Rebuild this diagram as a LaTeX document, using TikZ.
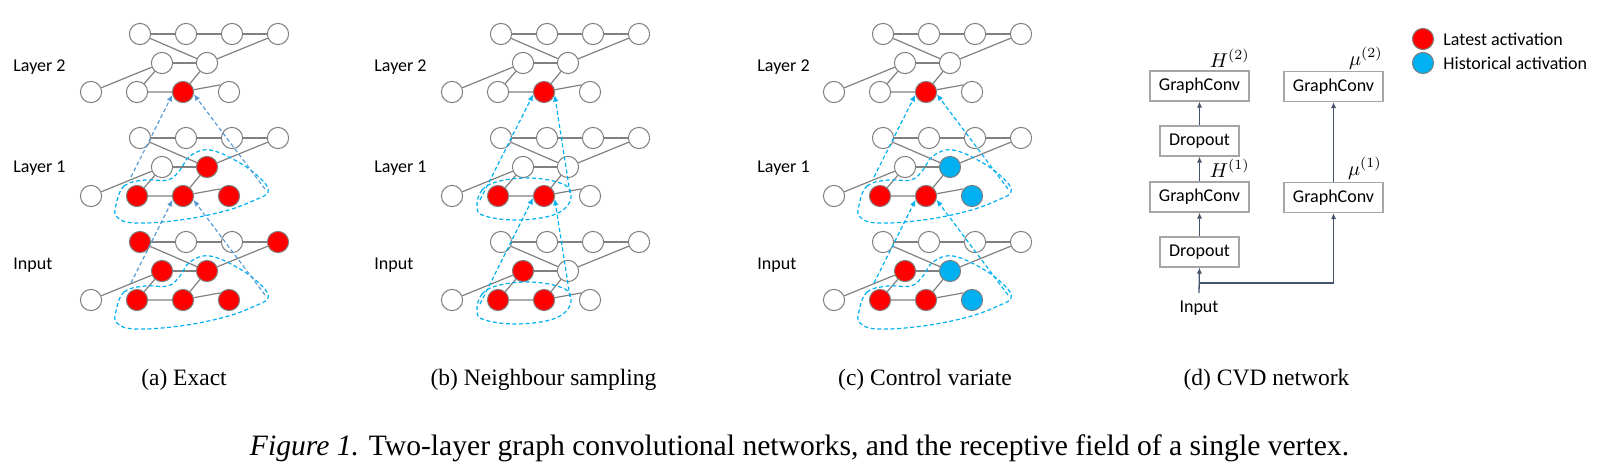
\documentclass[tikz,border=0pt]{standalone}
\usepackage{fontspec}
\setmainfont{Liberation Serif}
\newfontfamily\calfont{Carlito}
\usetikzlibrary{arrows.meta}
\definecolor{hb}{HTML}{00B0F0}
\definecolor{sb}{HTML}{5B9BD5}
\definecolor{ngray}{HTML}{808080}
\definecolor{arr}{HTML}{44546A}
\definecolor{boxg}{HTML}{A6A6A6}
% graph layer: #1 prefix, #2 dx, #3 y0, #4 fill colours (T1..T4,M1,M2,B1..B4)
\newcommand\glayer[4]{%
  \foreach \nm/\px/\py [count=\i from 0] in {T1/140/0,T2/186/0,T3/232/0,T4/278/0,M1/162/29,M2/207/29,B1/91/58,B2/137/58,B3/183/58,B4/229/58}{%
    \pgfmathparse{{#4}[\i]}\let\gcol\pgfmathresult
    \node[gn, fill=\gcol] (#1\nm) at (\px+#2,\py+#3) {};
  }%
  \draw[ge] (#1T1)--(#1T2)--(#1T3)--(#1T4);
  \draw[ge] (#1T1)--(#1M2)--(#1T4);
  \draw[ge] (#1M1)--(#1M2);
  \draw[ge] (#1B1)--(#1M1)--(#1B2)--(#1B3)--(#1M2);
  \draw[ge] (#1B3.12)--(#1B4.140);
}
% receptive field, exact / control variate
\newcommand\fieldA[3]{%
  \begin{scope}[shift={(#1,#2)}]
    \draw[blob] plot[smooth cycle, tension=0.65] coordinates {(116,67) (124,48) (145,42) (168,42) (180,32) (190,18) (210,12) (240,25) (262,42) (268,54) (255,62) (225,73) (180,82) (135,85) (117,79)};
    \coordinate (#3l) at (131,39);
    \coordinate (#3r) at (265,51);
  \end{scope}}
% receptive field, neighbour sampling
\newcommand\fieldB[3]{%
  \begin{scope}[shift={(#1,#2)}]
    \draw[blob] plot[smooth cycle, tension=0.65] coordinates {(116,70) (121,52) (139,43) (169,40) (196,44) (209,52) (207,67) (189,78) (154,82) (124,78)};
    \coordinate (#3l) at (119,62);
    \coordinate (#3r) at (209,55);
  \end{scope}}
\begin{document}
\begin{tikzpicture}[x=0.5pt,y=-0.5pt,
  gn/.style={circle, draw=ngray, line width=0.5pt, minimum size=10.6pt, inner sep=0pt},
  ge/.style={draw=ngray, line width=0.6pt},
  blob/.style={draw=hb, dash pattern=on 2pt off 1.3pt, line width=0.6pt},
  rf/.style={blob, -{Latex[length=3.2pt,width=2.8pt]}},
  rfa/.style={rf, draw=sb},
  lab/.style={font=\calfont\fontsize{9}{11}\selectfont, anchor=west, inner sep=0pt},
  box/.style={draw=boxg, line width=0.6pt, font=\calfont\fontsize{9}{11}\selectfont, minimum height=15pt, inner sep=0pt},
  da/.style={draw=arr, line width=0.65pt, -{Latex[length=3pt,width=2.6pt]}},
  suplab/.style={anchor=base east, inner sep=0pt, font=\fontsize{10}{12}\selectfont},
  subcap/.style={anchor=base, inner sep=0pt, font=\fontsize{11.75}{14}\selectfont}]
\useasboundingbox (0,0) rectangle (1599,466);

% ---------- panel (a) ----------
\node[lab] (aL2) at (13,67) {Layer 2};
\node[lab] (aL1) at (13,168) {Layer 1};
\node[lab] (aL0) at (13,265) {Input};
\glayer{a2}{0}{34}{"white","white","white","white","white","white","white","white","red","white"}
\glayer{a1}{0}{138}{"white","white","white","white","white","red","white","red","red","red"}
\glayer{a0}{0}{242}{"red","white","white","red","red","red","white","red","red","red"}
\fieldA{0}{138}{a1f}
\fieldA{0}{244}{a0f}
\draw[rfa] (a1fl) -- (a2B3.195);
\draw[rfa] (a1fr) -- (a2B3.-12);
\draw[rfa] (a0fl) -- (a1B3.200);
\draw[rfa] (a0fr) -- (a1B3.-20);

% ---------- panel (b) ----------
\node[lab] (bL2) at (374,67) {Layer 2};
\node[lab] (bL1) at (374,168) {Layer 1};
\node[lab] (bL0) at (374,265) {Input};
\glayer{b2}{361}{34}{"white","white","white","white","white","white","white","white","red","white"}
\glayer{b1}{361}{138}{"white","white","white","white","white","white","white","red","red","white"}
\glayer{b0}{361}{242}{"white","white","white","white","red","white","white","red","red","white"}
\fieldB{361}{138}{b1f}
\fieldB{361}{242}{b0f}
\draw[rf] (b1fl) -- (b2B3.193);
\draw[rf] (b1fr) -- (b2B3.-16);
\draw[rf] (b0fl) -- (b1B3.190);
\draw[rf] (b0fr) -- (b1B3.-15);

% ---------- panel (c) ----------
\node[lab] (cL2) at (757,67) {Layer 2};
\node[lab] (cL1) at (757,168) {Layer 1};
\node[lab] (cL0) at (757,265) {Input};
\glayer{c2}{743}{34}{"white","white","white","white","white","white","white","white","red","white"}
\glayer{c1}{743}{138}{"white","white","white","white","white","hb","white","red","red","hb"}
\glayer{c0}{743}{242}{"white","white","white","white","red","hb","white","red","red","hb"}
\fieldA{743}{138}{c1f}
\fieldA{743}{244}{c0f}
\draw[rf] (c1fl) -- (c2B3.195);
\draw[rf] (c1fr) -- (c2B3.-12);
\draw[rf] (c0fl) -- (c1B3.200);
\draw[rf] (c0fr) -- (c1B3.-20);

% ---------- panel (d) ----------
\node[box, minimum width=49.5pt] (gc2) at (1199.5,86) {GraphConv};
\node[box, minimum width=39.5pt] (do2) at (1199.5,141) {Dropout};
\node[box, minimum width=49.5pt] (gc1) at (1199.5,197) {GraphConv};
\node[box, minimum width=39.5pt] (do1) at (1199.5,252) {Dropout};
\node[box, minimum width=49.5pt] (mu2) at (1333.5,86.5) {GraphConv};
\node[box, minimum width=49.5pt] (mu1) at (1333.5,197.5) {GraphConv};
\node[font=\calfont\fontsize{9}{11}\selectfont, inner xsep=0pt, inner ysep=3.8pt] (inp) at (1199,308) {Input};
\coordinate (jn) at (1199,283);
\draw[da] (inp.north) -- (do1.south);
\draw[da] (do1) -- (gc1);
\draw[da] (gc1) -- (do2);
\draw[da] (do2) -- (gc2);
\draw[da] (mu1) -- (mu2);
\draw[da] (jn) -| (mu1.south);
\node[suplab] (h2) at (1250,67) {$H^{(2)}$};
\node[suplab] (m2) at (1383,65) {$\mu^{(2)}$};
\node[suplab] (h1) at (1250,177) {$H^{(1)}$};
\node[suplab] (m1) at (1382,175) {$\mu^{(1)}$};
% legend
\node[gn, fill=red] (lr) at (1423,39) {};
\node[gn, fill=hb] (lb) at (1423,63) {};
\node[lab] (lrt) at (1443,39) {Latest activation};
\node[lab] (lbt) at (1443,63) {Historical activation};

% ---------- captions ----------
\node[subcap] (capa) at (184,385.7) {(a) Exact};
\node[subcap] (capb) at (543.5,385.7) {(b) Neighbour sampling};
\node[subcap] (capc) at (925,385.7) {(c) Control variate};
\node[subcap] (capd) at (1266.5,385.7) {(d) CVD network};
\node[anchor=base, inner sep=0pt, font=\fontsize{14.8}{17}\selectfont] (fig) at (799.5,455) {\textit{Figure 1.} Two-layer graph convolutional networks, and the receptive field of a single vertex.};
\end{tikzpicture}
\end{document}
